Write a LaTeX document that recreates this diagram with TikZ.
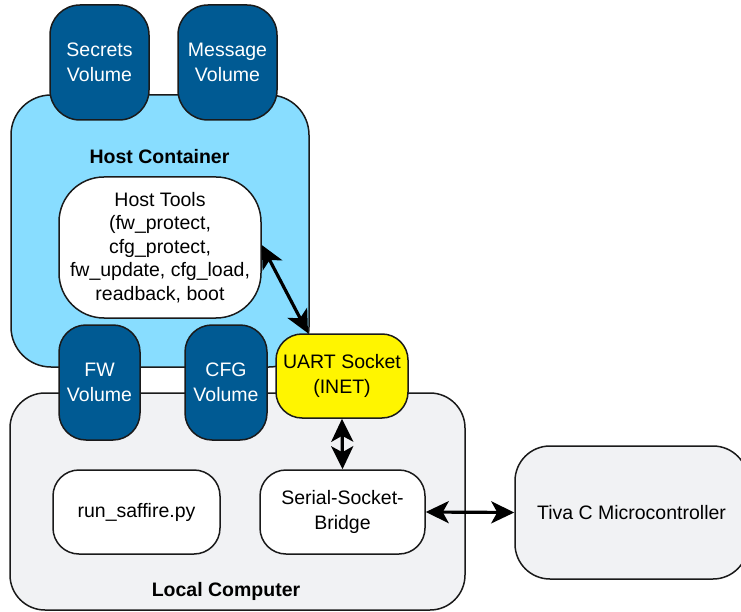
\documentclass[tikz,border=0pt]{standalone}
\usepackage{fontspec}
\setmainfont{Liberation Sans}
\usetikzlibrary{arrows.meta,calc}

\definecolor{volblue}{HTML}{005A93}
\definecolor{hostblue}{HTML}{88DDFF}
\definecolor{localgray}{HTML}{F1F2F4}
\definecolor{socketyellow}{HTML}{FFF500}
\definecolor{edge}{HTML}{1A1A1A}

\tikzset{
  box/.style={draw=edge, line width=1.5pt, inner sep=0pt, align=center,
    font=\fontsize{19.5}{24.5}\selectfont},
  volume/.style={box, fill=volblue, text=white, rounded corners=30pt},
  container/.style={box, rounded corners=40pt},
  toolbox/.style={box, fill=white, rounded corners=26pt},
  caption/.style={font=\fontsize{19.5}{23.5}\selectfont\bfseries},
  link/.style={line width=3.2pt, draw=black,
    {Stealth[length=23pt,width=22pt,inset=6pt]}-{Stealth[length=23pt,width=22pt,inset=6pt]}}
}

\begin{document}
\begin{tikzpicture}[x=1pt,y=-1pt]
\useasboundingbox (0,0) rectangle (741,612);

% outer environments
\node[container, fill=hostblue, minimum width=298pt, minimum height=272pt] (host) at (160,231) {};
\node[caption] (hostlabel) at (159.5,157) {Host Container};

\node[container, fill=localgray, rounded corners=35pt, minimum width=455pt, minimum height=217pt] (local) at (237.5,501.5) {};
\node[caption] (locallabel) at (226,591) {Local Computer};

\node[container, fill=localgray, rounded corners=35pt, minimum width=233pt, minimum height=133pt] (tiva) at (631.5,512.5) {Tiva C Microcontroller};

% mounted volumes
\node[volume, minimum width=99pt, minimum height=115pt] (secrets) at (99.5,62.5) {Secrets\\Volume};
\node[volume, minimum width=99pt, minimum height=115pt] (message) at (227.5,62.5) {Message\\Volume};
\node[volume, rounded corners=27pt, minimum width=81pt, minimum height=115pt] (fw) at (99.5,382.5) {FW\\Volume};
\node[volume, rounded corners=27pt, minimum width=82pt, minimum height=115pt] (cfg) at (226,382.5) {CFG\\Volume};

% tools and processes
\node[box, fill=white, rounded corners=45pt, minimum width=202pt, minimum height=141pt,
  font=\fontsize{19.5}{23.5}\selectfont] (tools) at (160,247.5)
  {Host Tools\\(fw\_protect,\\cfg\_protect,\\fw\_update, cfg\_load,\\readback, boot};
\node[box, fill=socketyellow, rounded corners=26pt, minimum width=132pt, minimum height=84pt] (uart) at (342,376) {UART Socket\\(INET)};
\node[toolbox, minimum width=167pt, minimum height=84pt] (runner) at (136.5,512) {run\_saffire.py};
\node[toolbox, minimum width=165pt, minimum height=84pt] (bridge) at (342.5,512) {Serial-Socket-\\Bridge};

% connections
\draw[link] ([yshift=2.5pt]tools.east) -- ([xshift=-34pt]uart.north);
\draw[link] (uart.south) -- (bridge.north);
\draw[link] (bridge.east) -- (tiva.west);
\end{tikzpicture}
\end{document}
